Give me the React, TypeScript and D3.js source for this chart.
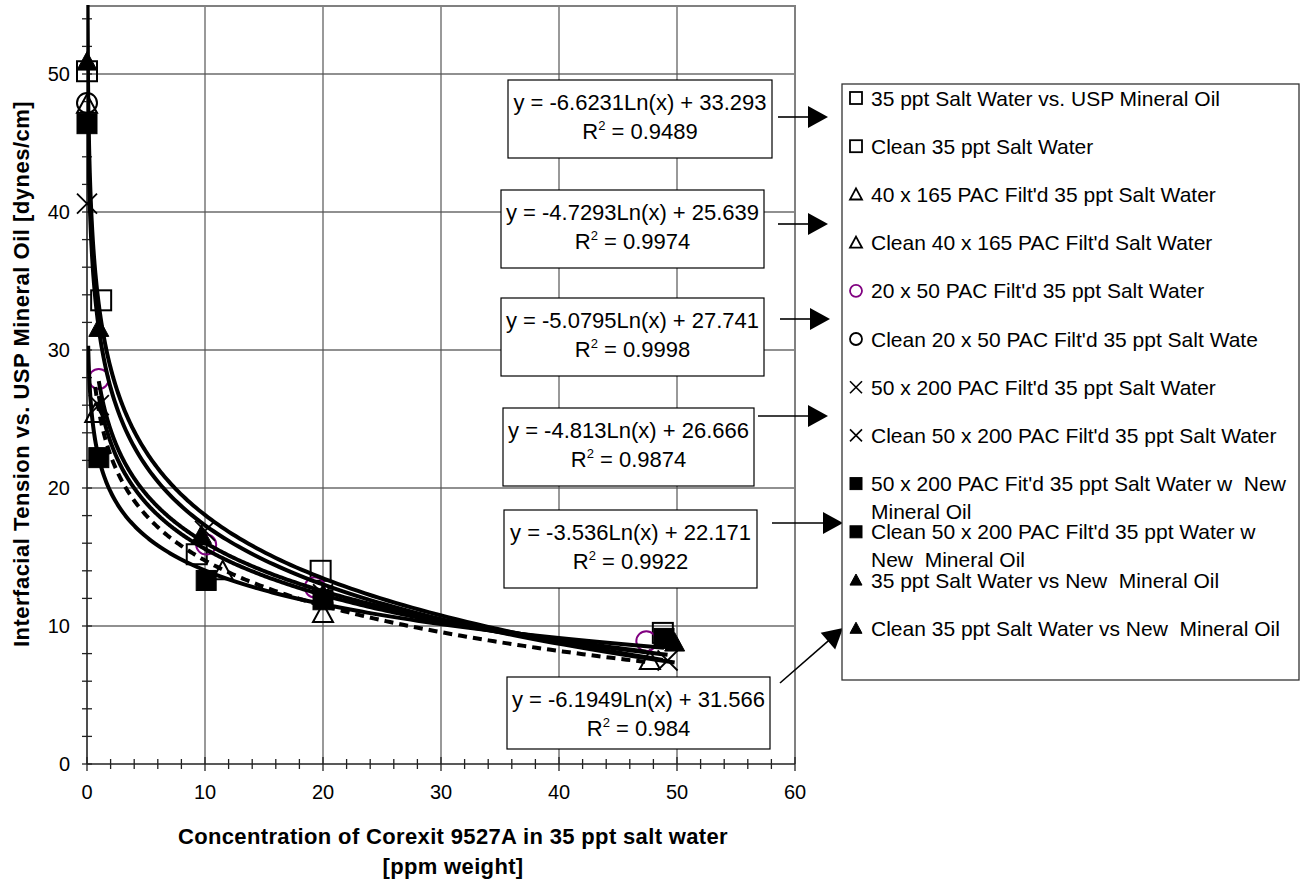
import React from 'react';
import * as d3 from 'd3';

const W = 1302;
const H = 879;
const FONT = "'Liberation Sans', Arial, sans-serif";

// ---------- data ----------
const seriesNames: string[][] = [
  ['35 ppt Salt Water vs. USP Mineral Oil'],
  ['Clean 35 ppt Salt Water'],
  ["40 x 165 PAC Filt'd 35 ppt Salt Water"],
  ["Clean 40 x 165 PAC Filt'd Salt Water"],
  ["20 x 50 PAC Filt'd 35 ppt Salt Water"],
  ["Clean 20 x 50 PAC Filt'd 35 ppt Salt Wate"],
  ["50 x 200 PAC Filt'd 35 ppt Salt Water"],
  ["Clean 50 x 200 PAC Filt'd 35 ppt Salt Water"],
  ["50 x 200 PAC Fit'd 35 ppt Salt Water w  New", 'Mineral Oil'],
  ["Clean 50 x 200 PAC Filt'd 35 ppt Water w", 'New  Mineral Oil'],
  ['35 ppt Salt Water vs New  Mineral Oil'],
  ['Clean 35 ppt Salt Water vs New  Mineral Oil'],
];
const seriesShapes = [
  'square', 'square', 'triangle', 'triangle', 'circle', 'circle',
  'x', 'x', 'filledSquare', 'filledSquare', 'filledTriangle', 'filledTriangle',
];
const seriesColors = [
  '#000000', '#000000', '#000000', '#000000', '#800080', '#000000',
  '#000000', '#000000', '#000000', '#000000', '#000000', '#000000',
];
const seriesX: number[][] = [
  [1.2, 9.3, 19.8, 48.8],
  [0],
  [0.7, 11.5, 20.0, 47.7],
  [0],
  [1.0, 10.1, 19.3, 47.4],
  [0],
  [1.0, 10.0, 20.0, 49.2],
  [0],
  [1.0, 10.1, 20.0, 48.9],
  [0],
  [1.0, 9.7, 20.0, 49.8],
  [0],
];
const seriesY: number[][] = [
  [33.6, 15.2, 14.0, 9.5],
  [50.2],
  [25.4, 14.0, 10.9, 7.5],
  [47.8],
  [27.9, 15.9, 12.8, 8.9],
  [47.9],
  [26.0, 16.9, 12.3, 7.5],
  [40.6],
  [22.2, 13.3, 11.9, 9.1],
  [46.4],
  [31.6, 16.6, 12.3, 8.8],
  [50.9],
];

const trendA = [-6.6231, -4.7293, -5.0795, -4.813, -3.536, -6.1949];
const trendB = [33.293, 25.639, 27.741, 26.666, 22.171, 31.566];
const trendEq = [
  'y = -6.6231Ln(x) + 33.293',
  'y = -4.7293Ln(x) + 25.639',
  'y = -5.0795Ln(x) + 27.741',
  'y = -4.813Ln(x) + 26.666',
  'y = -3.536Ln(x) + 22.171',
  'y = -6.1949Ln(x) + 31.566',
];
const trendR2 = ['0.9489', '0.9974', '0.9998', '0.9874', '0.9922', '0.984'];
const trendXStart = [0.02, 0.7, 1.0, 1.0, 0.1, 0.02];
const trendXEnd = [48.8, 47.7, 47.4, 49.2, 48.9, 49.8];
const trendDashed = [false, true, false, false, false, false];

const xMajorTicks = [0, 10, 20, 30, 40, 50, 60];
const yMajorTicks = [0, 10, 20, 30, 40, 50];

const yTitle = 'Interfacial Tension vs. USP Mineral Oil [dynes/cm]';
const xTitle = ['Concentration of Corexit 9527A in 35 ppt salt water', '[ppm weight]'];

// ---------- layout ----------
const P = { left: 87, right: 795, top: 5, bottom: 764 };
const eqBoxes = [
  { x: 508, y: 80, w: 264, h: 78, a: [778, 117, 828, 117] },
  { x: 501, y: 190, w: 263, h: 78, a: [778, 224, 828, 224] },
  { x: 501, y: 298, w: 263, h: 78, a: [780, 319, 830, 319] },
  { x: 503, y: 408, w: 251, h: 78, a: [758, 416, 828, 416] },
  { x: 504, y: 510, w: 253, h: 78, a: [772, 523, 843, 523] },
  { x: 507, y: 677, w: 263, h: 72, a: [780, 683, 843, 628] },
];
const LEG = { x: 842, y: 84, w: 457, h: 596, rowY0: 98, rowStep: 48.2, markerX: 856, textX: 871 };

function Marker({ shape, cx, cy, s, color }: { shape: string; cx: number; cy: number; s: number; color: string }) {
  const h = s / 2;
  const sw = s > 14 ? 2 : 1.8;
  switch (shape) {
    case 'square':
      return <rect x={cx - h} y={cy - h} width={s} height={s} fill="none" stroke={color} strokeWidth={sw} />;
    case 'filledSquare':
      return <rect x={cx - h} y={cy - h} width={s} height={s} fill={color} stroke={color} strokeWidth={1} />;
    case 'triangle': {
      const pts = `${cx},${cy - h} ${cx + h},${cy + h * 0.85} ${cx - h},${cy + h * 0.85}`;
      return <polygon points={pts} fill="none" stroke={color} strokeWidth={sw} />;
    }
    case 'filledTriangle': {
      const pts = `${cx},${cy - h} ${cx + h},${cy + h * 0.85} ${cx - h},${cy + h * 0.85}`;
      return <polygon points={pts} fill={color} stroke={color} strokeWidth={1} />;
    }
    case 'circle':
      return <circle cx={cx} cy={cy} r={h} fill="none" stroke={color} strokeWidth={sw} />;
    case 'x':
      return (
        <g stroke={color} strokeWidth={s > 14 ? 1.8 : 1.6}>
          <line x1={cx - h} y1={cy - h} x2={cx + h} y2={cy + h} />
          <line x1={cx - h} y1={cy + h} x2={cx + h} y2={cy - h} />
        </g>
      );
    default:
      return null;
  }
}

function Arrow({ x1, y1, x2, y2 }: { x1: number; y1: number; x2: number; y2: number }) {
  const dx = x2 - x1, dy = y2 - y1;
  const len = Math.sqrt(dx * dx + dy * dy);
  const ux = dx / len, uy = dy / len;
  const hl = 20, hw = 11;
  const bx = x2 - ux * hl, by = y2 - uy * hl;
  const pts = `${x2},${y2} ${bx - uy * hw},${by + ux * hw} ${bx + uy * hw},${by - ux * hw}`;
  return (
    <g>
      <line x1={x1} y1={y1} x2={bx + ux * 2} y2={by + uy * 2} stroke="#000" strokeWidth={1.6} />
      <polygon points={pts} fill="#000" />
    </g>
  );
}

export default function App() {
  const x = d3.scaleLinear().domain([0, 60]).range([P.left, P.right]);
  const y = d3.scaleLinear().domain([0, 55]).range([P.bottom, P.top]);

  const xMinor = d3.range(0, 61, 2);
  const yMinor = d3.range(0, 55, 2);

  const line = d3.line<[number, number]>().x((d) => x(d[0])).y((d) => y(d[1]));
  const trendPaths = trendA.map((a, i) => {
    const lx0 = Math.log(trendXStart[i]);
    const lx1 = Math.log(trendXEnd[i]);
    const pts: [number, number][] = d3.range(0, 301).map((k) => {
      const xv = Math.exp(lx0 + ((lx1 - lx0) * k) / 300);
      return [xv, a * Math.log(xv) + trendB[i]];
    });
    return line(pts) || '';
  });

  return (
    <svg width={W} height={H} style={{ position: 'absolute', left: 0, top: 0, display: 'block', background: '#fff' }} fontFamily={FONT}>
      <defs>
        <clipPath id="plotClip">
          <rect x={P.left} y={P.top} width={P.right - P.left} height={P.bottom - P.top} />
        </clipPath>
      </defs>
      <rect x={0} y={0} width={W} height={H} fill="#fff" />

      {/* gridlines */}
      {yMajorTicks.filter((t) => t > 0).map((t) => (
        <line key={'gy' + t} x1={P.left} x2={P.right} y1={y(t)} y2={y(t)} stroke="#222" strokeWidth={1.2} />
      ))}
      {xMajorTicks.filter((t) => t > 0 && t < 60).map((t) => (
        <line key={'gx' + t} x1={x(t)} x2={x(t)} y1={P.top} y2={P.bottom} stroke="#555" strokeWidth={1.2} />
      ))}
      <line x1={P.left} x2={P.right} y1={P.top + 1} y2={P.top + 1} stroke="#808080" strokeWidth={2} />
      <line x1={P.right} x2={P.right} y1={P.top} y2={P.bottom} stroke="#808080" strokeWidth={2} />

      {/* axes */}
      <line x1={P.left} x2={P.left} y1={P.top} y2={P.bottom} stroke="#222" strokeWidth={1.6} />
      <line x1={P.left} x2={P.right} y1={P.bottom} y2={P.bottom} stroke="#222" strokeWidth={1.6} />
      {xMinor.map((t) => {
        const major = t % 10 === 0;
        return <line key={'tx' + t} x1={x(t)} x2={x(t)} y1={P.bottom - (major ? 7 : 5)} y2={P.bottom + (major ? 7 : 5)} stroke="#222" strokeWidth={1.3} />;
      })}
      {yMinor.map((t) => (
        <line key={'ty' + t} x1={P.left - 5} x2={P.left + 5} y1={y(t)} y2={y(t)} stroke="#222" strokeWidth={1.3} />
      ))}
      {xMajorTicks.map((t) => (
        <text key={'lx' + t} x={x(t)} y={799} fontSize={20} textAnchor="middle" fill="#000">{t}</text>
      ))}
      {yMajorTicks.map((t) => (
        <text key={'ly' + t} x={70} y={y(t) + 7} fontSize={20} textAnchor="end" fill="#000">{t}</text>
      ))}

      {/* markers */}
      <g>
        {seriesX.map((xs, si) =>
          xs.map((xv, k) => (
            <Marker key={`m${si}-${k}`} shape={seriesShapes[si]} cx={x(xv)} cy={y(seriesY[si][k])} s={20} color={seriesColors[si]} />
          ))
        )}
      </g>

      {/* trendlines */}
      <g clipPath="url(#plotClip)">
        {trendPaths.map((d, i) => (
          <path key={'tr' + i} d={d} fill="none" stroke="#000" strokeWidth={4} strokeDasharray={trendDashed[i] ? '9,6' : undefined} />
        ))}
      </g>

      {/* equation boxes */}
      {eqBoxes.map((b, i) => (
        <g key={'eq' + i}>
          <rect x={b.x} y={b.y} width={b.w} height={b.h} fill="#fff" stroke="#000" strokeWidth={1.2} />
          <text x={b.x + b.w / 2} y={b.y + 30} fontSize={22} textAnchor="middle" fill="#000">{trendEq[i]}</text>
          <text x={b.x + b.w / 2} y={b.y + 59} fontSize={22} textAnchor="middle" fill="#000">
            R<tspan fontSize={13} dy={-9}>2</tspan><tspan dy={9}>{' = ' + trendR2[i]}</tspan>
          </text>
          <Arrow x1={b.a[0]} y1={b.a[1]} x2={b.a[2]} y2={b.a[3]} />
        </g>
      ))}

      {/* legend */}
      <rect x={LEG.x} y={LEG.y} width={LEG.w} height={LEG.h} fill="#fff" stroke="#333" strokeWidth={1.3} />
      {seriesNames.map((lines, i) => {
        const cy = LEG.rowY0 + i * LEG.rowStep;
        return (
          <g key={'lg' + i}>
            <Marker shape={seriesShapes[i]} cx={LEG.markerX} cy={cy} s={12} color={seriesColors[i]} />
            <text x={LEG.textX} y={cy + 7.5} fontSize={21} fill="#000" style={{ whiteSpace: 'pre' }}>
              {lines.map((l, k) => (
                <tspan key={k} x={LEG.textX} dy={k === 0 ? 0 : 27.5}>{l}</tspan>
              ))}
            </text>
          </g>
        );
      })}

      {/* axis titles */}
      <text transform={`translate(29,374) rotate(-90)`} fontSize={22} fontWeight="bold" letterSpacing={0.5} textAnchor="middle" fill="#000">{yTitle}</text>
      <text x={453} y={844} fontSize={22} fontWeight="bold" letterSpacing={0.35} textAnchor="middle" fill="#000">{xTitle[0]}</text>
      <text x={453} y={874} fontSize={22} fontWeight="bold" letterSpacing={0.35} textAnchor="middle" fill="#000">{xTitle[1]}</text>
    </svg>
  );
}
